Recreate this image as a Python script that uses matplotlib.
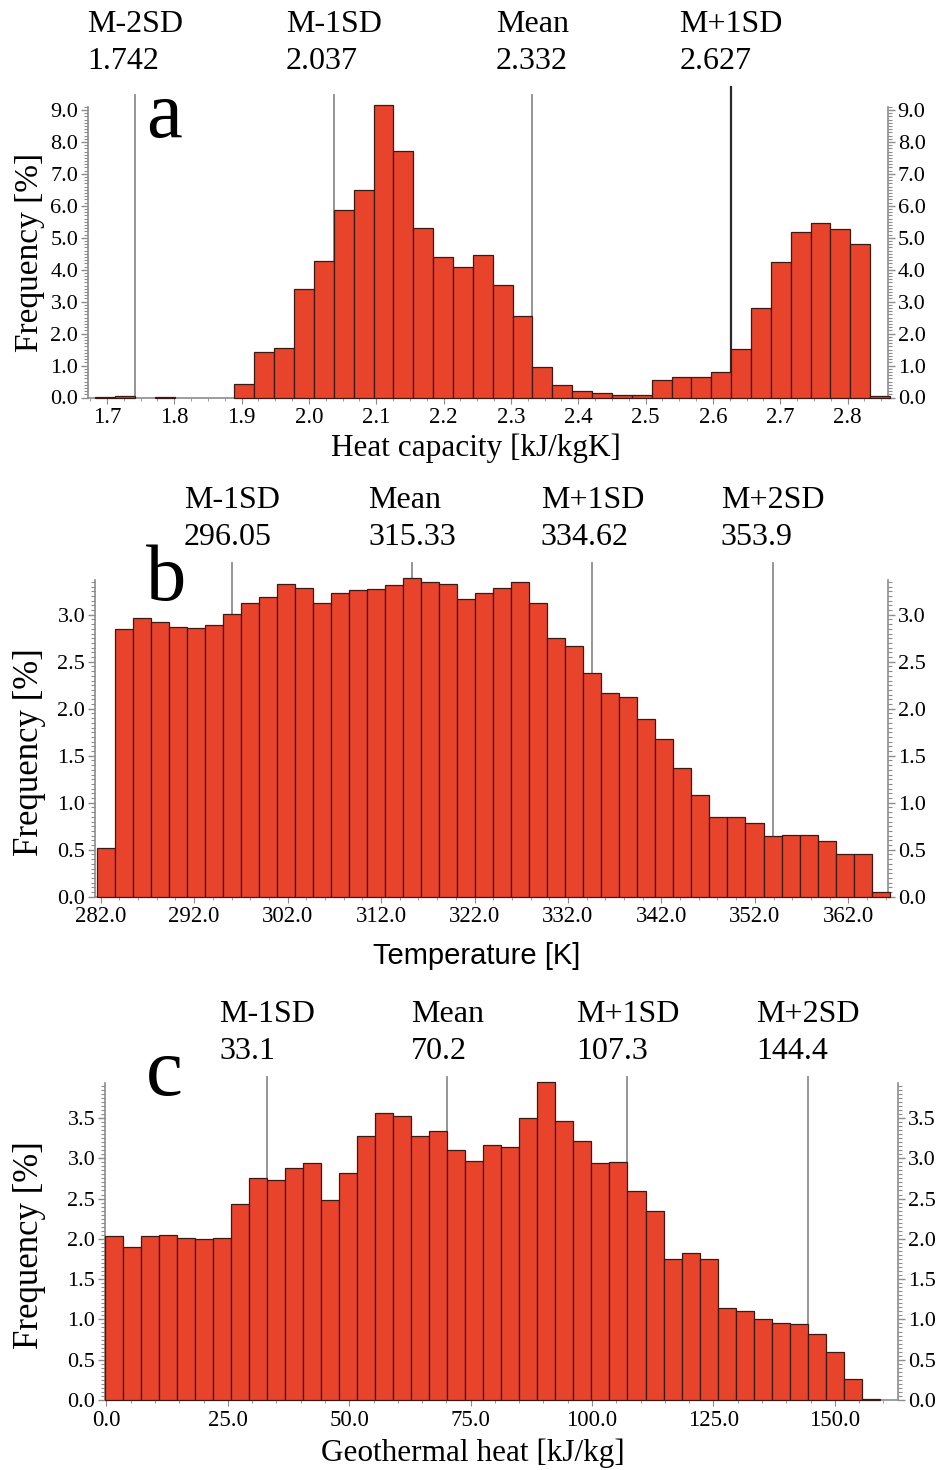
import numpy as np
import matplotlib
matplotlib.use("Agg")
import matplotlib.pyplot as plt
from matplotlib.transforms import blended_transform_factory
from matplotlib.ticker import MultipleLocator, FormatStrFormatter

plt.rcParams["font.family"] = ["Liberation Serif", "DejaVu Serif"]

# Panel a - heat capacity (bins of SD/10 starting at mean)
hc_mean = 2.332
hc_sd = 0.295
hc_k0 = -22
hc_freq = [0.01, 0.05, 0.0, 0.03, 0.0, 0.0, 0.0, 0.41, 1.41, 1.55, 3.41, 4.26,
           5.88, 6.48, 9.16, 7.71, 5.32, 4.41, 4.09, 4.47, 3.53, 2.55, 0.97,
           0.40, 0.19, 0.14, 0.08, 0.08, 0.56, 0.65, 0.63, 0.81, 1.53, 2.79,
           4.24, 5.19, 5.47, 5.29, 4.81, 0.04]
hc_lines = ["M-2SD", "M-1SD", "Mean", "M+1SD"]
hc_line_vals = ["1.742", "2.037", "2.332", "2.627"]
hc_ticks = [1.7, 1.8, 1.9, 2.0, 2.1, 2.2, 2.3, 2.4, 2.5, 2.6, 2.7, 2.8]

# Panel b - temperature (bins of SD/10 centred on mean)
t_mean = 315.33
t_sd = 19.28
t_k0 = -17
t_freq = [0.52, 2.85, 2.97, 2.92, 2.87, 2.86, 2.89, 3.01, 3.12, 3.19, 3.33,
          3.28, 3.12, 3.23, 3.26, 3.27, 3.32, 3.39, 3.35, 3.33, 3.17, 3.23,
          3.28, 3.35, 3.13, 2.75, 2.67, 2.38, 2.17, 2.12, 1.89, 1.68, 1.37,
          1.08, 0.85, 0.85, 0.78, 0.65, 0.66, 0.66, 0.59, 0.45, 0.45, 0.05]
t_lines = ["M-1SD", "Mean", "M+1SD", "M+2SD"]
t_line_vals = ["296.05", "315.33", "334.62", "353.9"]
t_ticks = [282, 292, 302, 312, 322, 332, 342, 352, 362]

# Panel c - geothermal heat (bins of SD/10 starting at mean)
g_mean = 70.2
g_sd = 37.1
g_k0 = -19
g_freq = [2.03, 1.90, 2.04, 2.05, 2.01, 2.00, 2.01, 2.43, 2.75, 2.73, 2.88,
          2.94, 2.48, 2.82, 3.27, 3.56, 3.52, 3.27, 3.34, 3.10, 2.97, 3.16,
          3.14, 3.50, 3.95, 3.46, 3.22, 2.94, 2.95, 2.59, 2.34, 1.75, 1.82,
          1.75, 1.14, 1.10, 1.00, 0.96, 0.94, 0.82, 0.60, 0.26, 0.01]
g_lines = ["M-1SD", "Mean", "M+1SD", "M+2SD"]
g_line_vals = ["33.1", "70.2", "107.3", "144.4"]
g_ticks = [0, 25, 50, 75, 100, 125, 150]

BAR = "#e8432b"
EDGE = "#3a1a14"
GREY = "#8c8c8c"
W, H = 943, 1470

fig = plt.figure(figsize=(W / 100, H / 100), dpi=100)


def px_axes(left, right, top, bottom):
    return fig.add_axes([left / W, 1 - bottom / H, (right - left) / W, (bottom - top) / H])


def style(ax, ymajor, yminor, xmajor_ticks, xminor):
    ax.spines["top"].set_visible(False)
    for s in ["left", "right", "bottom"]:
        ax.spines[s].set_color(GREY)
        ax.spines[s].set_linewidth(1.2)
    ax.yaxis.set_major_locator(MultipleLocator(ymajor))
    ax.yaxis.set_minor_locator(MultipleLocator(yminor))
    ax.yaxis.set_major_formatter(FormatStrFormatter("%.1f"))
    ax.tick_params(axis="y", which="both", left=True, right=True,
                   labelleft=True, labelright=True, direction="out",
                   colors=GREY, labelcolor="black", labelsize=16, pad=2)
    ax.tick_params(axis="y", which="major", length=5, width=1)
    ax.tick_params(axis="y", which="minor", length=3, width=0.8)
    ax.set_xticks(xmajor_ticks)
    ax.xaxis.set_minor_locator(MultipleLocator(xminor))
    ax.xaxis.set_major_formatter(FormatStrFormatter("%.1f"))
    ax.tick_params(axis="x", which="both", direction="out", colors=GREY,
                   labelcolor="black", labelsize=16.5, pad=3)
    ax.tick_params(axis="x", which="major", length=4)
    ax.tick_params(axis="x", which="minor", length=2.5)


def draw_bars(ax, mean, sd, k0, freq, centred):
    bw = sd / 10.0
    k = np.arange(k0, k0 + len(freq))
    left = mean + k * bw - (bw / 2 if centred else 0)
    f = np.array(freq)
    m = f > 0
    ax.bar(left[m], f[m], width=bw, align="edge", color=BAR, edgecolor=EDGE,
           linewidth=0.9, zorder=3, clip_on=False)


def draw_lines(ax, names, vals, ytop, text_top, dark=None):
    tr = blended_transform_factory(ax.transData, fig.transFigure)
    for i, (n, v) in enumerate(zip(names, vals)):
        x = float(v)
        col = "#2a2a2a" if dark == i else GREY
        ax.plot([x, x], [0, ytop if dark != i else ytop * 1.025], color=col,
                lw=1.6 if dark == i else 1.3, zorder=1, clip_on=False)
        ax.text(x, text_top, f"{n}\n{v}", transform=tr, ha="center",
                va="top", multialignment="left", fontsize=23, linespacing=1.35)


# ---- panel a
ax1 = px_axes(88, 888, 106.8, 397.5)
draw_bars(ax1, hc_mean, hc_sd, hc_k0, hc_freq, centred=False)
draw_lines(ax1, hc_lines, hc_line_vals, 9.47, 1 - 10 / H, dark=3)
ax1.set_xlim(1.672, 2.860)
ax1.set_ylim(0, 9.1)
style(ax1, 1.0, 0.1, hc_ticks, 0.025)
fig.text(476 / W, 1 - 456 / H, "Heat capacity [kJ/kgK]", ha="center", va="baseline", fontsize=22.5)
fig.text(30 / W, 1 - 252 / H, "Frequency [%]", rotation=90, ha="center", va="center", fontsize=24)
fig.text(146 / W, 1 - 137 / H, "a", fontsize=58, va="baseline")

# ---- panel b
ax2 = px_axes(95, 888.3, 580, 896.7)
draw_bars(ax2, t_mean, t_sd, t_k0, t_freq, centred=True)
draw_lines(ax2, t_lines, t_line_vals, 3.55, 1 - 486 / H)
ax2.set_xlim(281.39, 366.28)
ax2.set_ylim(0, 3.37)
style(ax2, 0.5, 0.05, t_ticks, 2)
fig.text(477 / W, 1 - 964 / H, "Temperature [K]", ha="center", va="baseline",
         fontsize=21, family=["Liberation Sans", "DejaVu Sans"])
fig.text(30 / W, 1 - 752 / H, "Frequency [%]", rotation=90, ha="center", va="center", fontsize=25)
fig.text(146 / W, 1 - 600 / H, "b", fontsize=58, va="baseline")

# ---- panel c
ax3 = px_axes(105, 898, 1083.3, 1400)
draw_bars(ax3, g_mean, g_sd, g_k0, g_freq, centred=False)
draw_lines(ax3, g_lines, g_line_vals, 4.01, 1 - 1000 / H)
ax3.set_xlim(-0.29, 163.0)
ax3.set_ylim(0, 3.93)
style(ax3, 0.5, 0.05, g_ticks, 5)
fig.text(473 / W, 1 - 1461 / H, "Geothermal heat [kJ/kg]", ha="center", va="baseline", fontsize=22.5)
fig.text(30 / W, 1 - 1245 / H, "Frequency [%]", rotation=90, ha="center", va="center", fontsize=25)
fig.text(146 / W, 1 - 1095 / H, "c", fontsize=60, va="baseline")

fig.savefig("out.png", dpi=100)
